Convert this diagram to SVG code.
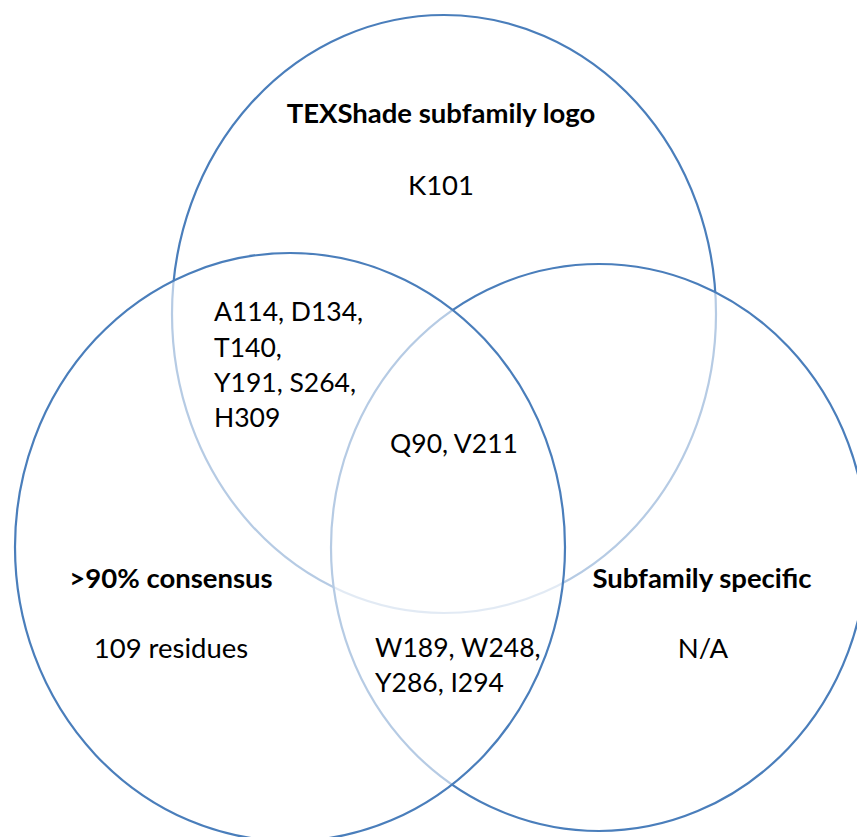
<svg xmlns="http://www.w3.org/2000/svg" width="857" height="837" viewBox="0 0 857 837">
<style>
.set{fill:#ffffff;fill-opacity:0.6;stroke:#4a7ebb;stroke-width:2.2}
text{font-family:Lato,"Open Sans","Liberation Sans",sans-serif;font-size:27.5px;fill:#000}
.b{font-weight:bold}
.m{text-anchor:middle}
.l{font-size:26.5px}
</style>
<rect width="857" height="837" fill="#ffffff"/>
<g id="set-texshade">
<ellipse class="set" cx="444" cy="314" rx="272" ry="299"/>
</g>
<g id="set-subfamily">
<ellipse class="set" cx="599" cy="547.5" rx="268" ry="283.5"/>
</g>
<g id="set-consensus">
<ellipse class="set" cx="290" cy="547" rx="275" ry="294"/>
</g>
<g id="labels">
<text class="b m" x="441" y="123">TEXShade subfamily logo</text>
<text class="m" x="441" y="195">K101</text>
<text class="l" x="214" y="321">A114, D134,</text>
<text class="l" x="214" y="357">T140,</text>
<text class="l" x="214" y="392">Y191, S264,</text>
<text class="l" x="214" y="427">H309</text>
<text class="l m" x="454" y="453">Q90, V211</text>
<text class="b m" x="171" y="588">&gt;90% consensus</text>
<text class="m" x="171" y="658">109 residues</text>
<text class="l" x="375" y="657">W189, W248,</text>
<text class="l" x="375" y="692">Y286, I294</text>
<text class="b m" x="702" y="588">Subfamily specific</text>
<text class="m" x="703" y="658">N/A</text>
</g>
<g id="connectors"/>
</svg>
